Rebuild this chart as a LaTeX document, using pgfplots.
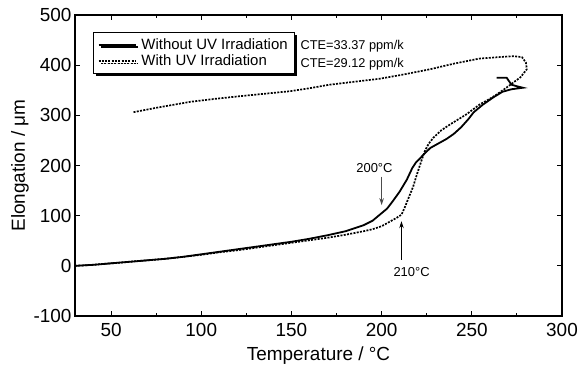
\documentclass[border=0pt]{standalone}
\usepackage{fontspec}
\setmainfont{Liberation Sans}
\usepackage{pgfplots}
\pgfplotsset{compat=1.18}
\usetikzlibrary{arrows.meta,shadows}
\begin{document}
\begin{tikzpicture}[x=1bp,y=1bp]
\useasboundingbox (-75,-48) rectangle (506,316);
\begin{axis}[
 at={(0,0)}, anchor=south west, scale only axis, width=487bp, height=301bp,
 xmin=30,xmax=300,ymin=-100,ymax=500,
 xtick={50,100,...,300}, ytick={-100,0,...,500},
 minor x tick num=1,
 tick align=inside, major tick length=5bp, minor tick length=3bp,
 axis line style={line width=1.6bp},
 every tick/.style={line width=1.1bp, black},
 /pgf/number format/assume math mode=true,
 ticklabel style={font=\fontsize{19}{19}\selectfont},
 xticklabel style={yshift=-3.5bp},
 xlabel={Temperature / °C}, ylabel={Elongation / μm},
 label style={font=\fontsize{19}{19}\selectfont},
 xlabel style={at={(axis description cs:0.5,-0.1330)}, anchor=center},
 ylabel style={at={(axis description cs:-0.1129,0.5)}, anchor=center},
 legend style={at={(axis description cs:0.0363,0.943)}, anchor=north west, draw=black, line width=1bp,
   font=\fontsize{15}{15}\selectfont, fill=white,
   drop shadow={shadow xshift=2.5bp, shadow yshift=-2.5bp, fill=black, opacity=1},
   inner xsep=4.5bp, inner ysep=4bp, row sep=0bp},
 legend cell align=left,
 legend image code/.code={\draw[#1] (0bp,0bp) -- (37bp,0bp); \path (40bp,0bp);},
]
\addplot[black, line width=1.8bp] coordinates {
(30,0) (40,2) (50,5) (60,8) (70,11) (80,14) (90,18) (100,23) (110,28) (120,33)
(130,38) (140,43) (150,48) (160,54) (170,61) (180,69) (190,81) (195,90) (200,105)
(203,114) (206,128) (210,148) (214,172) (217,195) (219,206) (221,213) (223,221)
(227,235) (231,243) (236,253) (240,263) (244,276) (248,292) (251,306) (256,321) (262,336) (267,347)
(272,352) (278.3,355) (275,358) (272,361) (269.3,375) (263.7,375)
};
\addlegendentry{Without UV Irradiation\hspace{6bp}}
\addplot[black, line width=1.7bp, dash pattern=on 2bp off 1.3bp] coordinates {
(30,0) (40,2) (50,5) (60,8) (70,11) (80,14) (90,18) (100,22) (110,27) (120,31)
(130,36) (140,41) (150,46) (160,51) (170,56) (180,62) (190,69) (195,73) (200,79)
(205,89) (208,95) (211,102) (213,118) (215,136) (217.5,158) (219,176) (221,198)
(222.5,214) (224,229) (226,243) (228.6,255) (233,270) (238,282) (247,302)
(254.5,322) (260,333) (264,342) (269.5,356) (277,376) (280.5,392) (280,405)
(277.8,416) (273,418) (265,416) (254,413) (240,403) (227,392) (213,382) (199,373) (185,367) (171,361)
(160,354) (149,348) (135,343) (121,338) (108,333) (94,327) (75,315) (62,306)
};
\addlegendentry{With UV Irradiation}
\node[font=\fontsize{12.8}{13}\selectfont, anchor=west, inner sep=0pt] at (axis cs:155,437) {CTE=33.37 ppm/k};
\node[font=\fontsize{12.8}{13}\selectfont, anchor=west, inner sep=0pt] at (axis cs:155,402) {CTE=29.12 ppm/k};
\draw[-{Stealth[length=7bp,width=4.5bp]}, line width=0.9bp, gray!60!black] (axis cs:200,178) -- (axis cs:200,121);
\node[font=\fontsize{13}{13}\selectfont, inner sep=0pt] at (axis cs:196,194) {200°C};
\draw[-{Stealth[length=7bp,width=4.5bp]}, line width=0.9bp, black] (axis cs:211,12) -- (axis cs:211,89);
\node[font=\fontsize{13}{13}\selectfont, inner sep=0pt] at (axis cs:216.6,-13) {210°C};
\end{axis}
\end{tikzpicture}
\end{document}
